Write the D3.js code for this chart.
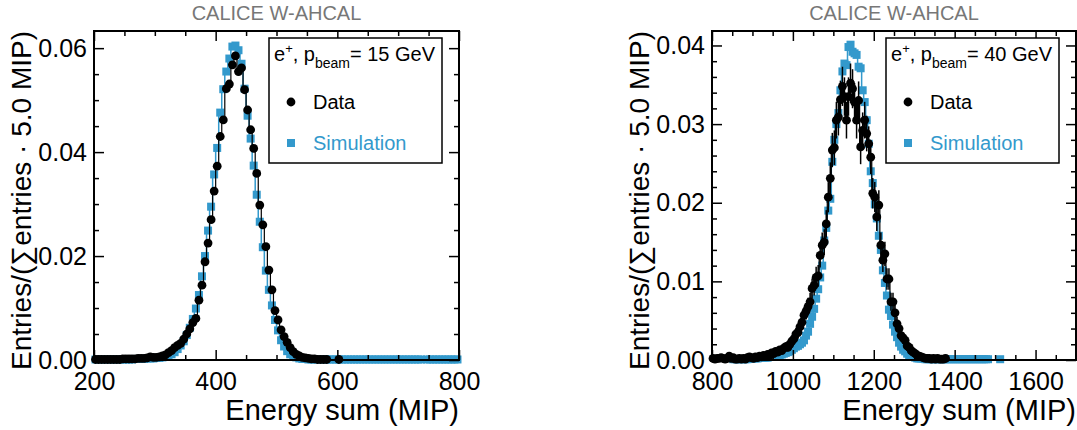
<!DOCTYPE html>
<html><head><meta charset="utf-8">
<script src="https://cdn.jsdelivr.net/npm/d3@7"></script>
<style>
body{margin:0;background:#fff}
svg{display:block}
text{font-family:"Liberation Sans", Arial, Helvetica, sans-serif}
</style>
</head><body>
<svg id="chart" width="1077" height="430"></svg>
<script>
// ---------- data (normalised entries per 5 MIP bin) ----------
const binWidth = 5;
const titleText = "CALICE W-AHCAL";
const xTitle = "Energy sum (MIP)";
const yTitle = "Entries/(\u2211entries \u00B7 5.0 MIP)";
const seriesNames = ["Data", "Simulation"];

// 15 GeV
const beam15 = "15";
const dataStart15 = 202.5;
const data15 = [
 0.0001,0.0001,0.0001,0.0001,0.0001,0.0001,0.0001,0.0001,0.0001,0.0002,
 0.0002,0.0002,0.0002,0.0002,0.0003,0.0003,
 0.0003,0.0004,0.0006,0.0005,0.0005,0.0006,0.0008,0.0010,0.0014,0.0018,
 0.0024,0.0028,0.0032,0.0040,0.0050,0.0060,0.0072,0.0080,0.0115,0.0144,
 0.0189,0.0225,0.0270,0.0325,0.0373,0.0430,0.0462,0.0522,0.0531,0.0568,
 0.0585,0.0555,0.0562,0.0520,0.0481,0.0443,0.0407,0.0359,0.0298,0.0260,
 0.0218,0.0173,0.0135,0.0095,0.0077,0.0058,0.0045,0.0034,0.0024,0.0016,
 0.0011,0.0008,0.0005,0.0004,0.0003,0.0002,0.0002,0.0001,0.0001,0.0001,
 0.0001,null,null,null,0.0001
];
const simStart15 = 202.5;
const sim15 = [
 0.0001,0.0001,0.0001,0.0001,0.0001,0.0001,0.0001,0.0001,0.0001,0.0001,
 0.0001,0.0001,0.0001,0.0002,0.0002,0.0002,0.0002,0.0003,0.0003,0.0003,
 0.0004,0.0004,0.0005,0.0006,0.0008,0.0011,0.0015,0.0021,0.0028,0.0036,
 0.0048,0.0062,0.0079,0.0099,0.0125,0.0161,0.0200,0.0249,0.0295,0.0357,
 0.0408,0.0476,0.0521,0.0555,0.0580,0.0603,0.0605,0.0596,0.0570,0.0522,
 0.0470,0.0426,0.0374,0.0318,0.0266,0.0217,0.0172,0.0135,0.0105,0.0077,
 0.0057,0.0038,0.0026,0.0017,0.0011,0.0007,0.0005,0.0003,0.0002,0.0002,
 0.0001,0.0001,0.0001,0.0001,0.0001,0.0001,0.0001,0.0001,0.0001,0.0001,
 0.0001,0.0001,0.0001,0.0001,0.0001,0.0001,0.0001,0.0001,0.0001,0.0001,
 0.0001,0.0001,0.0001,0.0001,0.0001,0.0001,0.0001,0.0001,0.0001,0.0001,
 0.0001,0.0001,0.0001,0.0001,0.0001,0.0001,0.0001,0.0001,null,0.0001,
 0.0001,0.0001,0.0001,0.0001,0.0001,0.0001,0.0001,0.0001,0.0001,0.0001
];

// 40 GeV
const beam40 = "40";
const dataStart40 = 802.5;
const data40 = [
 0.0002,0.0001,0.0002,0.0002,0.0003,0.0002,0.0001,0.0002,0.0005,0.0002,
 0.0003,0.0001,0.0001,0.0002,0.0001,0.0002,0.0001,0.0003,0.0004,0.0003,
 0.0002,0.0004,0.0003,0.0005,0.0004,0.0006,0.0005,0.0007,0.0006,0.0009,
 0.0008,0.0011,0.0010,0.0013,0.0012,0.0015,0.0017,0.0016,0.0020,0.0024,
 0.0027,0.0033,0.0035,0.0042,0.0048,0.0057,0.0062,0.0068,0.0074,0.0091,
 0.0095,0.0105,0.0107,0.0133,0.0146,0.0150,0.0173,0.0207,0.0231,0.0267,
 0.0270,0.0305,0.0309,0.0331,0.0348,0.0335,0.0305,0.0335,0.0352,0.0345,
 0.0328,0.0305,0.0330,0.0271,0.0292,0.0305,0.0288,0.0275,0.0258,0.0212,
 0.0207,0.0182,0.0197,0.0146,0.0127,0.0135,0.0103,0.0103,0.0074,0.0074,
 0.0060,0.0046,0.0040,0.0031,0.0028,0.0025,0.0018,0.0016,0.0012,0.0010,
 0.0008,0.0006,0.0005,0.0004,0.0003,0.0002,0.0002,0.0002,0.0001,0.0002,
 0.0001,0.0002,0.0001,0.0001,0.0001,0.0002
];
const dataEvents40 = 5600; // used for the statistical (Poisson) error bars
const simStart40 = 852.5;
const sim40 = [
 0.0001,0.0001,0.0001,0.0001,0.0001,0.0001,0.0001,0.0001,0.0002,0.0002,
 0.0002,0.0002,0.0002,0.0003,0.0003,0.0003,0.0003,0.0003,0.0004,0.0004,
 0.0004,0.0005,0.0005,0.0006,0.0007,0.0008,0.0009,0.0010,0.0011,0.0013,
 0.0015,0.0017,0.0018,0.0020,0.0022,0.0025,0.0031,0.0036,0.0046,0.0055,
 0.0065,0.0078,0.0090,0.0105,0.0120,0.0152,0.0168,0.0190,0.0205,0.0252,
 0.0280,0.0300,0.0314,0.0343,0.0367,0.0377,0.0375,0.0398,0.0401,0.0392,
 0.0390,0.0388,0.0373,0.0371,0.0343,0.0328,0.0305,0.0275,0.0240,0.0225,
 0.0198,0.0180,0.0158,0.0140,0.0114,0.0098,0.0082,0.0064,0.0056,0.0045,
 0.0036,0.0029,0.0022,0.0017,0.0013,0.0011,0.0008,0.0006,0.0005,0.0004,
 0.0003,0.0002,0.0002,0.0002,0.0002,0.0001,0.0001,0.0001,0.0001,0.0001,
 0.0001,0.0001,0.0001,0.0001,0.0001,0.0001,0.0001,0.0001,0.0001,0.0001,
 0.0001,0.0001,0.0001,0.0001,0.0001,0.0001,0.0001,0.0001,0.0001,0.0001,
 0.0001,0.0001,0.0001,0.0001,0.0001,0.0001,0.0001,null,null,null,
 null,null,0.0001
];

// axis ticks
const xTicks15 = [200, 400, 600, 800];
const xTicks40 = [800, 1000, 1200, 1400, 1600];
const yTicks15 = [0, 0.02, 0.04, 0.06];
const yTicks40 = [0, 0.01, 0.02, 0.03, 0.04];

// ---------- drawing ----------
const simColor = "#3399cc";
const svg = d3.select("#chart");

function toPoints(start, vals) {
  return vals.map((v, i) => ({ x: start + i * binWidth, v: v }));
}

function drawPanel(cfg) {
  const g = svg.append("g");
  const x = d3.scaleLinear().domain(cfg.xDomain).range([cfg.left, cfg.right]);
  const y = d3.scaleLinear().domain(cfg.yDomain).range([cfg.bottom, cfg.top]);

  const xMinor = d3.range(cfg.xDomain[0], cfg.xDomain[1] + 1e-6, cfg.xMinorStep)
    .filter(v => !cfg.xTicks.includes(v));
  const nMin = Math.floor(cfg.yDomain[1] / cfg.yMinorStep + 1e-6);
  const yMinor = d3.range(0, nMin + 1).map(i => +(i * cfg.yMinorStep).toFixed(6))
    .filter(v => !cfg.yTicks.some(t => Math.abs(t - v) < 1e-9));

  // simulation
  const sim = toPoints(cfg.simStart, cfg.sim);
  const stepLine = d3.line().defined(d => d.v !== null)
    .x(d => x(d.x)).y(d => y(d.v)).curve(d3.curveStep);
  g.append("path").datum(sim).attr("d", stepLine)
    .attr("fill", "none").attr("stroke", simColor).attr("stroke-width", 1.5);
  g.append("g").selectAll("rect").data(sim.filter(d => d.v !== null)).join("rect")
    .attr("x", d => x(d.x) - 4).attr("y", d => y(d.v) - 4)
    .attr("width", 8).attr("height", 8).attr("fill", simColor);

  // data
  const dat = toPoints(cfg.dataStart, cfg.data);
  g.append("path").datum(dat).attr("d", stepLine)
    .attr("fill", "none").attr("stroke", "#000").attr("stroke-width", 1.2);
  if (cfg.events) {
    g.append("g").selectAll("line").data(dat.filter(d => d.v !== null)).join("line")
      .attr("x1", d => x(d.x)).attr("x2", d => x(d.x))
      .attr("y1", d => y(d.v - Math.sqrt(d.v / cfg.events)))
      .attr("y2", d => y(d.v + Math.sqrt(d.v / cfg.events)))
      .attr("stroke", "#000").attr("stroke-width", 1.5);
  }
  g.append("g").selectAll("circle").data(dat.filter(d => d.v !== null)).join("circle")
    .attr("cx", d => x(d.x)).attr("cy", d => y(d.v)).attr("r", 4.4).attr("fill", "#000");

  // axes (ticks inside, on all four sides)
  function styleAxis(sel) {
    sel.select(".domain").remove();
    sel.selectAll("line").attr("stroke", "#000").attr("stroke-width", 1.5);
    sel.attr("font-family", null).attr("font-size", 25);
    sel.selectAll("text").attr("fill", "#000");
  }
  g.append("g").attr("transform", `translate(0,${cfg.bottom})`)
    .call(d3.axisBottom(x).tickValues(cfg.xTicks).tickSize(-10).tickPadding(12).tickFormat(d3.format("d")))
    .call(styleAxis);
  g.append("g").attr("transform", `translate(0,${cfg.bottom})`)
    .call(d3.axisBottom(x).tickValues(xMinor).tickSize(-5).tickFormat(""))
    .call(styleAxis);
  g.append("g").attr("transform", `translate(0,${cfg.top})`)
    .call(d3.axisTop(x).tickValues(cfg.xTicks).tickSize(-10).tickFormat(""))
    .call(styleAxis);
  g.append("g").attr("transform", `translate(0,${cfg.top})`)
    .call(d3.axisTop(x).tickValues(xMinor).tickSize(-5).tickFormat(""))
    .call(styleAxis);
  g.append("g").attr("transform", `translate(${cfg.left},0)`)
    .call(d3.axisLeft(y).tickValues(cfg.yTicks).tickSize(-10).tickPadding(7).tickFormat(d3.format(".2f")))
    .call(styleAxis);
  g.append("g").attr("transform", `translate(${cfg.left},0)`)
    .call(d3.axisLeft(y).tickValues(yMinor).tickSize(-5).tickFormat(""))
    .call(styleAxis);
  g.append("g").attr("transform", `translate(${cfg.right},0)`)
    .call(d3.axisRight(y).tickValues(cfg.yTicks).tickSize(-10).tickFormat(""))
    .call(styleAxis);
  g.append("g").attr("transform", `translate(${cfg.right},0)`)
    .call(d3.axisRight(y).tickValues(yMinor).tickSize(-5).tickFormat(""))
    .call(styleAxis);

  // frame
  g.append("rect").attr("x", cfg.left).attr("y", cfg.top)
    .attr("width", cfg.right - cfg.left).attr("height", cfg.bottom - cfg.top)
    .attr("fill", "none").attr("stroke", "#000").attr("stroke-width", 2);

  // titles
  g.append("text").attr("x", (cfg.left + cfg.right) / 2).attr("y", 20)
    .attr("text-anchor", "middle").attr("font-size", 20).attr("fill", "#777")
    .text(titleText);
  g.append("text").attr("x", cfg.right).attr("y", 420)
    .attr("text-anchor", "end").attr("font-size", 29).attr("fill", "#000")
    .text(xTitle);
  g.append("text").attr("transform", `translate(${cfg.left - 63},${cfg.top}) rotate(-90)`)
    .attr("text-anchor", "end").attr("font-size", 28).attr("fill", "#000")
    .text(yTitle);

  // legend
  const lx = cfg.right - 190, ly = 38;
  const lg = g.append("g");
  lg.append("rect").attr("x", lx).attr("y", ly).attr("width", 173).attr("height", 125)
    .attr("fill", "#fff").attr("stroke", "#000").attr("stroke-width", 1.5);
  const head = lg.append("text").attr("x", lx + 5).attr("y", ly + 23).attr("font-size", 20).attr("fill", "#000");
  head.append("tspan").text("e");
  head.append("tspan").attr("font-size", 13).attr("dy", -8).text("+");
  head.append("tspan").attr("dy", 8).text(", p");
  head.append("tspan").attr("font-size", 14).attr("dy", 7).text("beam");
  head.append("tspan").attr("dy", -7).text("= " + cfg.beam + " GeV");
  lg.append("circle").attr("cx", lx + 22).attr("cy", ly + 64).attr("r", 4.4).attr("fill", "#000");
  lg.append("text").attr("x", lx + 44).attr("y", ly + 71).attr("font-size", 20).attr("fill", "#000").text(seriesNames[0]);
  lg.append("rect").attr("x", lx + 22 - 4).attr("y", ly + 105 - 4).attr("width", 8).attr("height", 8).attr("fill", simColor);
  lg.append("text").attr("x", lx + 44).attr("y", ly + 112).attr("font-size", 20).attr("fill", simColor).text(seriesNames[1]);
}

drawPanel({
  left: 94, right: 459, top: 31, bottom: 360,
  xDomain: [200, 800], yDomain: [0, 0.0633],
  xTicks: xTicks15, yTicks: yTicks15, xMinorStep: 50, yMinorStep: 0.005,
  dataStart: dataStart15, data: data15, simStart: simStart15, sim: sim15,
  beam: beam15, events: null
});
drawPanel({
  left: 712, right: 1076, top: 31, bottom: 360,
  xDomain: [800, 1700], yDomain: [0, 0.04184],
  xTicks: xTicks40, yTicks: yTicks40, xMinorStep: 50, yMinorStep: 0.002,
  dataStart: dataStart40, data: data40, simStart: simStart40, sim: sim40,
  beam: beam40, events: dataEvents40
});
</script>
</body></html>
